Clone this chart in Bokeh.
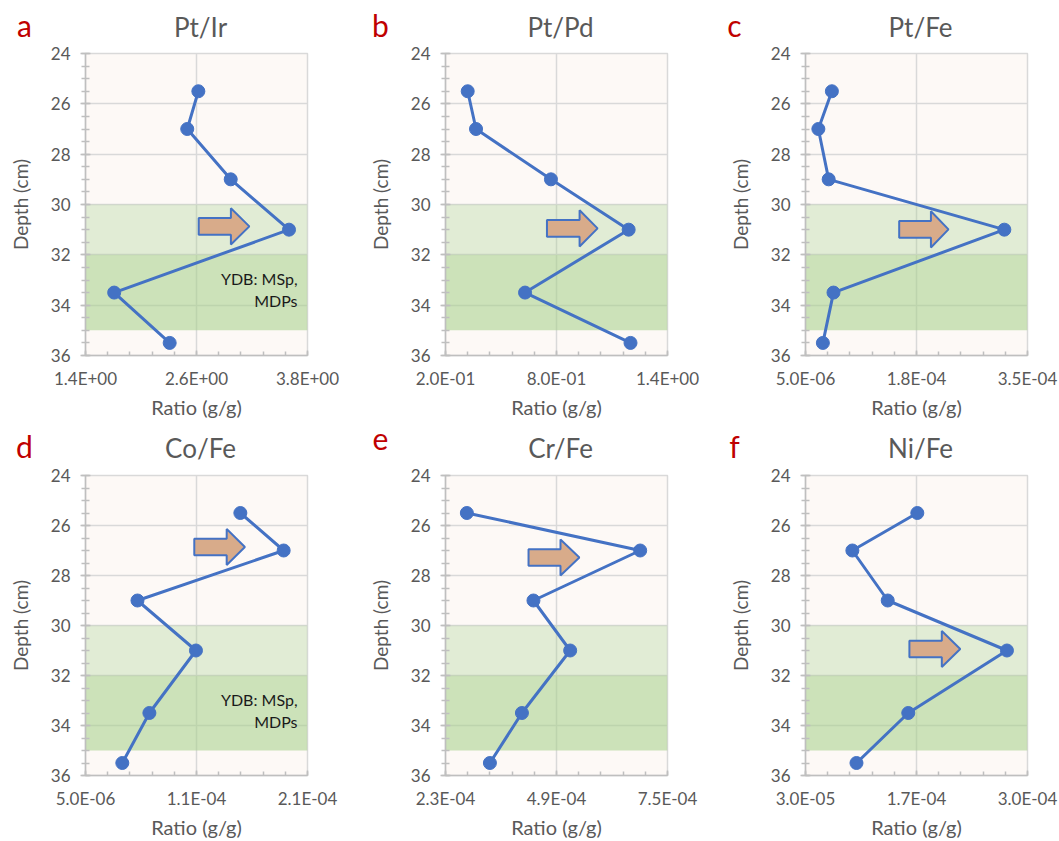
from bokeh.plotting import figure
from bokeh.layouts import column, row
from bokeh.models import (Range1d, FixedTicker, CustomJSTickFormatter, Label,
                          BoxAnnotation, ColumnDataSource)
from bokeh.core.properties import value
from bokeh.embed import file_html
from bokeh.resources import INLINE

FONT = "Lato"

# ---------------- data ----------------
depth_cm = [25.5, 27.0, 29.0, 31.0, 33.5, 35.5]

panel_letters = ["a", "b", "c", "d", "e", "f"]
panel_titles = ["Pt/Ir", "Pt/Pd", "Pt/Fe", "Co/Fe", "Cr/Fe", "Ni/Fe"]

pt_ir = [2.62, 2.50, 2.97, 3.60, 1.71, 2.31]
pt_pd = [0.32, 0.365, 0.77, 1.19, 0.63, 1.20]
pt_fe = [4.6e-5, 2.5e-5, 4.1e-5, 3.14e-4, 4.85e-5, 3.2e-5]
co_fe = [1.48e-4, 1.88e-4, 5.3e-5, 1.07e-4, 6.4e-5, 3.9e-5]
cr_fe = [2.8e-4, 6.86e-4, 4.36e-4, 5.22e-4, 4.09e-4, 3.34e-4]
ni_fe = [1.66e-4, 8.7e-5, 1.30e-4, 2.75e-4, 1.55e-4, 9.2e-5]
series = [pt_ir, pt_pd, pt_fe, co_fe, cr_fe, ni_fe]

x_ticks = [
    [1.4, 2.6, 3.8],
    [0.2, 0.8, 1.4],
    [5e-6, 1.775e-4, 3.5e-4],
    [5e-6, 1.075e-4, 2.1e-4],
    [2.3e-4, 4.9e-4, 7.5e-4],
    [3e-5, 1.65e-4, 3e-4],
]
x_tick_labels = [
    ["1.4E+00", "2.6E+00", "3.8E+00"],
    ["2.0E-01", "8.0E-01", "1.4E+00"],
    ["5.0E-06", "1.8E-04", "3.5E-04"],
    ["5.0E-06", "1.1E-04", "2.1E-04"],
    ["2.3E-04", "4.9E-04", "7.5E-04"],
    ["3.0E-05", "1.7E-04", "3.0E-04"],
]
y_ticks = [24, 26, 28, 30, 32, 34, 36]
y_minor = [24 + 0.5 * k for k in range(25)]

light_band = (30, 32)
dark_band = (32, 35)

# arrow: depth of its centre line, and (body start, head base, tip) as fractions of x range
arrow_depth = [30.87, 30.95, 30.99, 26.86, 27.28, 30.94]
arrow_frac = [
    (0.51, 0.655, 0.738),
    (0.457, 0.604, 0.685),
    (0.422, 0.565, 0.644),
    (0.49, 0.636, 0.718),
    (0.374, 0.518, 0.603),
    (0.468, 0.614, 0.697),
]
ydb_panels = [0, 3]
ydb_lines = ["YDB: MSp,", "MDPs"]
ydb_depths = [32.96, 33.83]

# ---------------- style / layout ----------------
BLUE = "#4472c4"
TXT = "#595959"
AX = "#bfbfbf"
GRID = "#d9d9d9"
FRAME_W, FRAME_H = 222, 304
HDR_H = 44
col_widths = [360, 360, 339]
col_right = [53, 53, 32]
letter_x = [24, 20, 14]
title_x = 200
row_tops = [9, 10]
row_bottoms = [64, 62]


def make_header(i, width):
    h = figure(frame_width=width, frame_height=HDR_H, x_range=Range1d(0, width),
               y_range=Range1d(0, HDR_H), output_backend="svg",
               toolbar_location=None, min_border=0, title=None,
               x_axis_location=None, y_axis_location=None)
    h.grid.visible = False
    h.outline_line_color = None
    h.background_fill_color = "white"
    h.border_fill_color = "white"
    c = i % 3
    h.text(x=[letter_x[c]], y=[HDR_H - 6], text=[panel_letters[i]], text_align="center",
           text_baseline="top", text_font=value(FONT),
           text_font_size="30px", text_color="#c00000")
    h.text(x=[title_x], y=[HDR_H - 10], text=[panel_titles[i]], text_align="center",
           text_baseline="top", text_font=value(FONT),
           text_font_size="26px", text_color=TXT)
    return h


def make_panel(i, width, mbt, mbb, mbr):
    lo, mid, hi = x_ticks[i]
    height = mbt + FRAME_H + mbb
    p = figure(width=width, height=height, x_range=Range1d(lo, hi),
               y_range=Range1d(36, 24), output_backend="svg",
               toolbar_location=None, min_border_left=85, min_border_right=mbr,
               min_border_top=mbt, min_border_bottom=mbb, title=None)
    p.background_fill_color = "#fdf9f6"
    p.border_fill_color = "white"
    p.outline_line_color = GRID
    p.outline_line_width = 1.5

    # bands
    p.add_layout(BoxAnnotation(bottom=light_band[0], top=light_band[1],
                               fill_color="#a9d08e", fill_alpha=0.32,
                               line_color=None, level="underlay"))
    p.add_layout(BoxAnnotation(bottom=dark_band[0], top=dark_band[1],
                               fill_color="#a9d08e", fill_alpha=0.58,
                               line_color=None, level="underlay"))

    # axes
    step = (hi - lo) / 10.0
    p.xaxis.ticker = FixedTicker(ticks=x_ticks[i],
                                 minor_ticks=[lo + k * step for k in range(11)])
    p.xaxis.formatter = CustomJSTickFormatter(
        args=dict(tv=x_ticks[i], tl=x_tick_labels[i]),
        code="""
        let b = 0, bd = Infinity;
        for (let k = 0; k < tv.length; k++) {
            const d = Math.abs(tv[k] - tick);
            if (d < bd) { bd = d; b = k; }
        }
        return tl[b];
        """)
    p.yaxis.ticker = FixedTicker(ticks=y_ticks, minor_ticks=y_minor)
    p.xgrid.ticker = FixedTicker(ticks=[mid])
    p.ygrid.ticker = FixedTicker(ticks=y_ticks)
    for g in (p.xgrid, p.ygrid):
        g.grid_line_color = GRID
        g.grid_line_width = 1.5
        g.level = "image"

    for ax in (p.xaxis, p.yaxis):
        ax.axis_line_color = AX
        ax.axis_line_width = 1.5
        ax.major_tick_line_color = AX
        ax.minor_tick_line_color = AX
        ax.major_tick_line_width = 1.5
        ax.minor_tick_line_width = 1.5
        ax.major_label_text_font = FONT
        ax.major_label_text_font_size = "17px"
        ax.major_label_text_color = TXT
        ax.axis_label_text_font = FONT
        ax.axis_label_text_color = TXT
        ax.axis_label_text_font_style = "normal"

    p.xaxis.axis_label = "Ratio (g/g)"
    p.xaxis.axis_label_text_font_size = "20px"
    p.xaxis.major_tick_in = 5
    p.xaxis.major_tick_out = 0
    p.xaxis.minor_tick_in = 4
    p.xaxis.minor_tick_out = 0
    p.xaxis.major_label_standoff = 12
    p.xaxis.axis_label_standoff = 3

    p.yaxis.axis_label = "Depth (cm)"
    p.yaxis.axis_label_text_font_size = "19px"
    p.yaxis.major_tick_in = 5
    p.yaxis.major_tick_out = 5
    p.yaxis.minor_tick_in = 4
    p.yaxis.minor_tick_out = 4
    p.yaxis.major_label_standoff = 10
    p.yaxis.axis_label_standoff = 16

    # data
    src = ColumnDataSource(dict(x=series[i], y=depth_cm))
    p.line("x", "y", source=src, line_color=BLUE, line_width=3)
    p.scatter("x", "y", source=src, size=13, fill_color=BLUE, line_color=BLUE)

    # arrow
    fb, fh, ft = arrow_frac[i]
    xr = hi - lo
    xb, xh, xtp = lo + fb * xr, lo + fh * xr, lo + ft * xr
    yc = arrow_depth[i]
    bh, hh = 0.33, 0.72
    p.patch([xb, xh, xh, xtp, xh, xh, xb],
            [yc - bh, yc - bh, yc - hh, yc, yc + hh, yc + bh, yc + bh],
            fill_color="#d8ab8a", line_color=BLUE, line_width=2)

    # YDB text
    if i in ydb_panels:
        for t, d in zip(ydb_lines, ydb_depths):
            p.add_layout(Label(x=hi - 0.045 * xr, y=d, text=t, text_align="right",
                               text_baseline="alphabetic", text_font=FONT,
                               text_font_size="16px", text_color="#1a1a1a"))
    return p


blocks = []
for r in range(2):
    hdr_row, fig_row = [], []
    for c in range(3):
        i = r * 3 + c
        hdr_row.append(make_header(i, col_widths[c]))
        fig_row.append(make_panel(i, col_widths[c], row_tops[r], row_bottoms[r], col_right[c]))
    blocks.append(row(*hdr_row, spacing=0))
    blocks.append(row(*fig_row, spacing=0))

layout = column(*blocks, spacing=0)

open("out.html", "w").write(file_html(layout, INLINE))
